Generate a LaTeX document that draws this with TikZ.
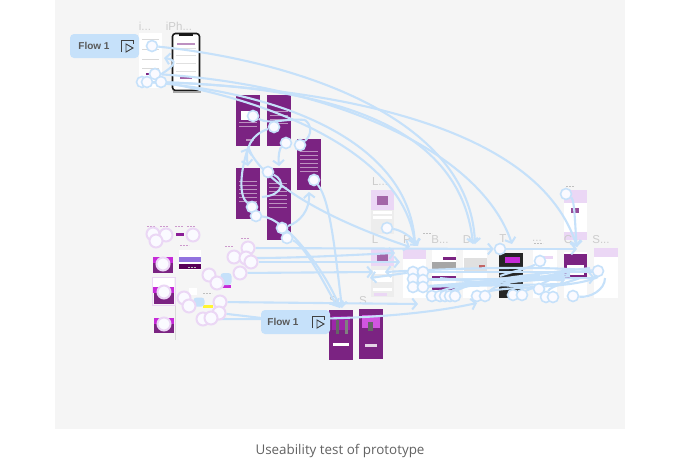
\documentclass[tikz,border=0pt]{standalone}
\usepackage{fontspec}
\setmainfont{Liberation Sans}
\newfontfamily\capfont{Open Sans}
\usepackage{tikz}
\usetikzlibrary{positioning,arrows.meta}
\definecolor{panel}{HTML}{F5F5F5}
\definecolor{wire}{HTML}{C6E1FA}
\definecolor{plum}{HTML}{7B2382}
\definecolor{lilac}{HTML}{EBD7F5}
\definecolor{magenta1}{HTML}{C62AD8}
\pgfdeclarelayer{wires}
\pgfdeclarelayer{hots}
\pgfsetlayers{main,wires,hots}

\begin{document}
\begin{tikzpicture}
  [
  x=1pt,y=-1pt,
  >={Straight Barb[length=4.5pt,width=11pt,line width=2pt]},
  flowbox/.style={rectangle,rounded corners=4pt,fill=wire,minimum height=24,inner sep=0},
  flowtxt/.style={inner sep=0,font=\bfseries\fontsize{10}{10}\selectfont,text=black!65},
  scrpurple/.style={rectangle,fill=plum,minimum width=24,minimum height=51,inner sep=0},
  scrwhite/.style={rectangle,fill=white,minimum width=24,inner sep=0},
  scrlilac/.style={rectangle,fill=lilac,minimum width=24,inner sep=0},
  smallscr/.style={rectangle,fill=plum,minimum width=20,inner sep=0},
  tag/.style={font=\fontsize{11.5}{11.5}\selectfont,text=black!20,inner sep=0},
  hot/.style={circle,fill=blue!2,draw=wire,line width=1.6pt,minimum size=11,inner sep=0},
  halo/.style={circle,fill=blue!2,draw=lilac,line width=2pt,minimum size=13,inner sep=0},
  wr/.style={draw=wire,line width=2.1pt},
  dashrow/.style={draw=violet!40,line width=1pt,dash pattern=on 2pt off 1pt}
  ]
  \useasboundingbox (0,0) rectangle (680,459);
  \fill[panel] (55,0) rectangle (625,429);
  \node (cap) at (340,451) [font=\capfont\fontsize{13.4}{13.4}\selectfont,text=black!62] {Useability test of prototype};

  % start screens
  \node (iscr) [scrwhite] at (150.5,60.5) [minimum width=23,minimum height=55] {};
  \fill[plum] (146,73) rectangle (150,75);
  \foreach \yy in {39,49,59,68} \fill[black!15] (142,\yy) rectangle (159,\yy+1);
  \node (iphone) [rectangle,rounded corners=3pt,fill=white,draw=black!90,line width=1.6pt,minimum width=27,minimum height=57,inner sep=0] at (186,62) {};
  \fill[black!90] (179,34) rectangle (193,36);
  \fill[black!35] (173,91) rectangle (201,92.5);
  \foreach \yy in {48,55,63,71} \fill[black!12] (176,\yy) rectangle (196,\yy+1);
  \fill[plum!50] (177,43) rectangle (195,44.5);
  \fill[plum!70] (180,77) rectangle (192,78.5);
  \node (t1) [tag] at (145,26) {i...};
  \node (t2) [tag] at (179,26) {iPh...};

  % purple cluster
  \node (p1) [scrpurple] at (248,120.5) {};
  \node (p2) [scrpurple] at (279,120.5) {};
  \node (p3) [scrpurple] at (309,164.5) {};
  \node (p4) [scrpurple] at (248,193.5) {};
  \node (p5) [scrpurple] at (278.5,204) [minimum height=72] {};
  \foreach \xx/\yy in {239/122,239/126,270/111,270/115,270/119,270/123,
    300/151,300/155,300/159,300/163,300/167,300/171,239/181,239/185,239/189,239/193,239/197,239/201,
    269/183,269/187,269/191,269/195,269/199,269/203,269/207}
    \fill[white,opacity=.5] (\xx,\yy) rectangle (\xx+18,\yy+1.3);
  \fill[white] (241,111) rectangle (250,120);
  \fill[white,opacity=.5] (246,139) rectangle (254,141);

  % second flow
  \node (s1) [scrpurple] at (341,335) [minimum height=50] {};
  \node (s2) [scrpurple] at (371,334) [minimum height=50] {};
  \fill[magenta1!45!plum] (332,316) rectangle (350,330);
  \fill[magenta1!80] (362,315) rectangle (380,328);
  \fill[black!60] (336,320) rectangle (339,334);
  \fill[black!50] (345,320) rectangle (348,334);
  \fill[black!60] (368,322) rectangle (373,331);
  \fill[white] (333,343) rectangle (349,346);
  \fill[white,opacity=.8] (365,344) rectangle (377,347);
  \node (t3) [tag] at (333,301) {S};
  \node (t4) [tag] at (363,301) {S};

  % left small screens
  \node (m1) [smallscr] at (163,265) [minimum height=16] {};
  \node (m2) [smallscr] at (163.5,291) [minimum height=26] {};
  \node (m3) [smallscr] at (164,325.5) [minimum height=15] {};
  \fill[magenta1] (153,257) rectangle (173,263);
  \fill[white] (153,278) rectangle (174,287);
  \fill[magenta1] (153,287) rectangle (174,293);
  \fill[magenta1] (154,318) rectangle (174,324);
  \draw[black!15,line width=.8pt] (175,283) -- (175,340);
  \draw[lilac,line width=.8pt] (152,277) rectangle (175,305);
  \node (pal0) [rectangle,fill=white,minimum width=22,minimum height=20,inner sep=0] at (190,260) {};
  \node (pal1) [rectangle,fill=violet!45!blue!55,minimum width=22,minimum height=5,inner sep=0] at (190,259.5) {};
  \node (pal2) [rectangle,fill=violet!70!black,minimum width=22,minimum height=5,inner sep=0] at (190,266) {};
  \node (bar1) [rectangle,fill=magenta1!70!black,minimum width=8,minimum height=3,inner sep=0] at (180,234) {};
  \node (bar2) [rectangle,fill=magenta1,minimum width=10,minimum height=3,inner sep=0] at (226,286.5) {};
  \node (bar3) [rectangle,fill=yellow!80,minimum width=10,minimum height=3,inner sep=0] at (208,306) {};
  \node (wg1) [rectangle,fill=white,minimum width=8,minimum height=7,inner sep=0] at (193,291) {};
  \node (blob1) [rectangle,rounded corners=3pt,fill=wire,minimum width=11,minimum height=12,inner sep=0] at (226,279) {};
  \node (blob2) [rectangle,rounded corners=3pt,fill=wire,minimum width=11,minimum height=9,inner sep=0] at (199,302) {};
  \foreach \xa/\ya in {147/226,160/226,175/226,187/226,241/238,225/246,180/245}
    \draw[dashrow] (\xa,\ya) -- +(9,0);
  \foreach \xa/\ya in {188/267,203/293,566/186,423/233,534/243}
    \draw[dashrow,draw=black!25] (\xa,\ya) -- +(9,0);

  % right row
  \node (ltop) [scrwhite] at (382.5,212) [minimum width=23,minimum height=44,fill=black!7] {};
  \node (ltopb) [scrlilac] at (382.5,200) [minimum width=23,minimum height=20] {};
  \fill[white] (373,211) rectangle (392,214);
  \fill[white] (373,216) rectangle (392,219);
  \node (l2) [scrwhite] at (382.5,272.5) [minimum width=23,minimum height=49,fill=black!7] {};
  \node (l2b) [scrlilac] at (382.5,257) [minimum width=23,minimum height=18] {};
  \fill[white] (373,270) rectangle (392,274);
  \fill[white] (373,277) rectangle (392,282);
  \fill[white] (373,288) rectangle (392,291);
  \fill[plum!70] (377,196) rectangle (388,205);
  \fill[plum!70] (377,254) rectangle (388,262);
  \fill[lilac] (374,293) rectangle (387,296);
  \node (pp) [scrwhite] at (414.5,273.5) [minimum width=23,minimum height=49] {};
  \node (ppb) [scrlilac] at (414.5,254) [minimum width=23,minimum height=10] {};
  \node (bb) [scrwhite] at (444,273.5) [minimum height=47] {};
  \fill[black!35] (432,262) rectangle (456,270);
  \fill[plum] (443,257) rectangle (456,260);
  \fill[plum] (432,276) rectangle (456,279);
  \fill[plum] (432,285) rectangle (456,290);
  \node (dd) [scrwhite] at (475,273.5) [minimum height=49] {};
  \fill[black!12] (464,258) rectangle (487,272);
  \fill[red!60!black!60] (479,265) rectangle (485,268);
  \node (tt) [rectangle,fill=black!85,minimum width=24,minimum height=45,inner sep=0] at (511,275.5) {};
  \fill[magenta1] (505,257) rectangle (520,263);
  \fill[white,opacity=.7] (499,277) rectangle (523,280);
  \node (dots) [scrwhite] at (545,273.5) [minimum height=49] {};
  \fill[lilac] (537,256) rectangle (553,259);
  \node (cc) [scrwhite] at (575.5,275) [minimum width=23,minimum height=46] {};
  \fill[plum] (564,254) rectangle (587,278);
  \fill[white] (567,265) rectangle (584,275);
  \node (cu) [scrwhite] at (575.5,215) [minimum width=23,minimum height=50] {};
  \fill[lilac] (564,190) rectangle (587,203);
  \fill[lilac] (564,232) rectangle (587,240);
  \fill[plum!80] (571,208) rectangle (579,213);
  \node (ss) [scrwhite] at (606,273) [minimum height=50] {};
  \node (ssb) [scrlilac] at (606,252.5) [minimum height=9] {};
  \node (t5) [tag] at (380,182) {L...};
  \node (t6) [tag] at (375,240) {L};
  \node (t7) [tag] at (407,240) {P};
  \node (t8) [tag] at (440,240) {B...};
  \node (t9) [tag] at (467,240) {D};
  \node (t10) [tag] at (503,239) {T};
  \node (t11) [tag] at (537,241) {...};
  \node (t12) [tag] at (568,240) {C};
  \node (t13) [tag] at (601,240) {S...};

  \begin{pgfonlayer}{hots}
    \node (flowa) [flowbox,minimum width=69] at (104.5,46) {};
    \node (flowb) [flowbox,minimum width=69] at (295.5,322) {};
    \node (la) [flowtxt] at (94,46) {Flow 1};
    \node (lb) [flowtxt] at (283,322) {Flow 1};
    \foreach \xx/\yy in {127/46,318/322} {
      \draw[black!75,line width=.9pt] (\xx-5,\yy+5) -- (\xx-6,\yy+5) -- (\xx-6,\yy-6) -- (\xx+6,\yy-6) -- (\xx+6,\yy-2);
      \draw[black!75,line width=.9pt] (\xx-1,\yy-2) -- (\xx+6,\yy+2) -- (\xx-1,\yy+6) -- cycle;
    }
    % hotspots
    \foreach \n/\x/\y in {a1/152/46,a2/155/74,a3/142/82,a4/147/82,a5/161/82,
      b1/253/116,b2/274/127,b3/286/143,b4/300/145,b5/268/172,b6/314/180,b7/252/207,b8/256/216,b9/282/228,b10/287/238,
      r1/566/194,r2/387/228,r3/500/249,r4/540/261,r5/598/271,
      r6/413/272,r7/413/279,r8/413/287,r9/423/272,r10/423/280,r11/423/287,
      r12/432/296,r13/440/296,r14/445/296,r15/450/296,r16/455/296,r17/477/296,r18/485/296,
      r19/513/295,r20/522/295,r21/539/289,r22/546/297,r23/553/297,r24/573/296}
      \node (\n) [hot] at (\x,\y) {};
    \foreach \n/\x/\y in {c1/153/234,c2/166/235,c3/193/235,c4/156/241,c5/163/264,c6/164/292,c7/164/324,
      d1/248/248,d2/234/257,d3/246/258,d4/251/262,d5/240/273,
      e1/209/275,e2/217/283,e3/184/298,e4/189/306,e5/220/302,e6/219/313,e7/203/319,e8/211/318}
      \node (\n) [halo] at (\x,\y) {};
  \end{pgfonlayer}

  \begin{pgfonlayer}{wires}
    % from the start screens
    \draw [wr,->] (a1) .. controls (290,60) and (470,115) .. (475,244);
    \draw [wr,->] (a5) .. controls (350,90) and (540,130) .. (577,247);
    \draw [wr,->] (a2) .. controls (330,85) and (480,150) .. (512,244);
    \draw [wr,->] (a3) .. controls (320,85) and (460,120) .. (473,244);
    \draw [wr,->] (a4) .. controls (300,95) and (410,150) .. (415,245);
    \draw [wr,->] (a5) .. controls (290,105) and (405,160) .. (415,245);
    \draw [wr,->] (a2.east) .. controls (175,66) and (178,60) .. (164,58);
    % purple cluster
    \draw [wr] (b1) .. controls (270,125) and (285,118) .. (305,120);
    \draw [wr] (b4) .. controls (312,135) and (312,125) .. (305,120);
    \draw [wr,->] (b2) .. controls (250,135) and (245,150) .. (248,166);
    \draw [wr,->] (b7) .. controls (238,195) and (241,170) .. (248,148);
    \draw [wr,->] (b3) .. controls (280,148) and (278,155) .. (279,166);
    \draw [wr] (b5) .. controls (285,180) and (285,195) .. (262,197);
    \draw [wr,->] (b9) .. controls (300,222) and (310,210) .. (309,192);
    \draw [wr,->] (b6) .. controls (330,200) and (335,250) .. (342,308);
    \draw [wr,->] (b8) .. controls (285,218) and (325,270) .. (340,308);
    \draw [wr,->] (b10) .. controls (305,245) and (325,285) .. (337,306);
    \draw [wr,->] (p1.south) .. controls (255,170) and (300,210) .. (410,247);
    % left column and row
    \draw [wr,->] (d1) -- (r3);
    \draw [wr,->] (d3) .. controls (300,258) and (350,255) .. (395,253);
    \draw [wr,->] (d4) -- (400,262);
    \draw [wr,->] (d5) -- (373,272);
    \draw [wr,->] (e5) -- (418,304);
    \draw [wr,->] (e7) .. controls (280,319) and (390,322) .. (477,303);
    \draw [wr] (e6) -- (flowb);
    \draw [wr] (e2) -- (blob1);
    \draw [wr] (e4) -- (blob2);
    % right row
    \draw [wr,->] (r2) .. controls (400,230) and (410,235) .. (418,246);
    \draw [wr,->] (r3) -- (577,249);
    \draw [wr,->] (r5) .. controls (540,266) and (460,268) .. (385,272);
    \draw [wr,->] (r6) -- (370,278);
    \draw [wr,->] (r9) -- (600,272);
    \draw [wr,->] (r7) -- (565,280);
    \draw [wr,->] (r10) -- (595,278);
    \draw [wr] (r8) -- (570,276);
    \draw [wr] (r11) -- (570,274);
    \draw [wr] (r8) -- (565,284);
    \draw [wr] (r12) .. controls (450,285) and (500,280) .. (540,275);
    \draw [wr] (r15) .. controls (470,280) and (530,275) .. (590,268);
    \draw [wr] (r14) .. controls (460,284) and (500,283) .. (565,278);
    \draw [wr] (r17) .. controls (500,285) and (570,290) .. (598,277);
    \draw [wr] (r18) .. controls (500,280) and (540,280) .. (570,270);
    \draw [wr] (r19) .. controls (530,290) and (560,275) .. (565,272);
    \draw [wr] (r21) -- (440,278);
    \draw [wr] (r4) .. controls (530,268) and (510,272) .. (500,276);
    \draw [wr] (r22) .. controls (550,286) and (570,282) .. (580,278);
    \draw [wr] (r24) .. controls (590,298) and (605,290) .. (605,278);
    \draw [wr,->] (r1) .. controls (575,200) and (575,230) .. (577,247);
  \end{pgfonlayer}
\end{tikzpicture}
\end{document}
